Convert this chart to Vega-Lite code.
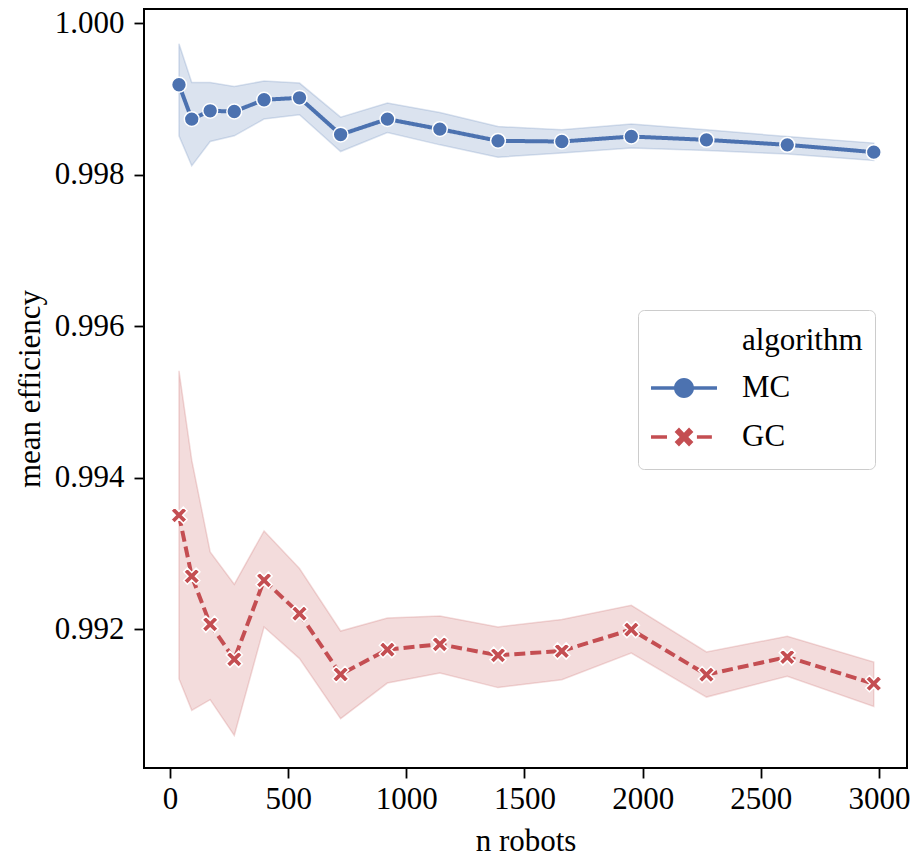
{
  "$schema": "https://vega.github.io/schema/vega-lite/v6.json",
  "width": 763,
  "height": 759,
  "autosize": "none",
  "padding": {"left": 144, "top": 9, "right": 5, "bottom": 89},
  "background": "white",
  "config": {
    "view": {"stroke": "black", "strokeWidth": 2},
    "font": "Liberation Serif",
    "axis": {
      "grid": false,
      "domain": false,
      "tickColor": "black",
      "tickSize": 10,
      "tickWidth": 1.8,
      "labelFont": "Liberation Serif",
      "labelFontSize": 31,
      "labelColor": "black",
      "labelFlush": false,
      "labelOverlap": false,
      "titleFont": "Liberation Serif",
      "titleFontSize": 31,
      "titleFontWeight": "normal",
      "titleColor": "black"
    }
  },
  "data": {
    "values": [
      {"algorithm": "MC", "n": 38, "mean": 0.999185, "lo": 0.998511, "hi": 0.999727},
      {"algorithm": "MC", "n": 92, "mean": 0.998732, "lo": 0.998115, "hi": 0.999215},
      {"algorithm": "MC", "n": 170, "mean": 0.998841, "lo": 0.998436, "hi": 0.999215},
      {"algorithm": "MC", "n": 272, "mean": 0.998832, "lo": 0.998511, "hi": 0.999163},
      {"algorithm": "MC", "n": 398, "mean": 0.998987, "lo": 0.998732, "hi": 0.999234},
      {"algorithm": "MC", "n": 548, "mean": 0.999013, "lo": 0.998789, "hi": 0.999207},
      {"algorithm": "MC", "n": 722, "mean": 0.998528, "lo": 0.998304, "hi": 0.998758},
      {"algorithm": "MC", "n": 920, "mean": 0.998732, "lo": 0.998555, "hi": 0.998943},
      {"algorithm": "MC", "n": 1142, "mean": 0.9986, "lo": 0.998392, "hi": 0.998819},
      {"algorithm": "MC", "n": 1388, "mean": 0.998445, "lo": 0.99823, "hi": 0.998634},
      {"algorithm": "MC", "n": 1658, "mean": 0.998436, "lo": 0.998283, "hi": 0.99859},
      {"algorithm": "MC", "n": 1952, "mean": 0.998502, "lo": 0.998349, "hi": 0.998666},
      {"algorithm": "MC", "n": 2270, "mean": 0.998458, "lo": 0.998317, "hi": 0.99859},
      {"algorithm": "MC", "n": 2612, "mean": 0.998392, "lo": 0.99827, "hi": 0.998502},
      {"algorithm": "MC", "n": 2978, "mean": 0.998296, "lo": 0.998185, "hi": 0.998415},
      {"algorithm": "GC", "n": 38, "mean": 0.993505, "lo": 0.991347, "hi": 0.995411},
      {"algorithm": "GC", "n": 92, "mean": 0.992699, "lo": 0.990929, "hi": 0.994231},
      {"algorithm": "GC", "n": 170, "mean": 0.992065, "lo": 0.99107, "hi": 0.99302},
      {"algorithm": "GC", "n": 272, "mean": 0.991603, "lo": 0.990598, "hi": 0.992593},
      {"algorithm": "GC", "n": 398, "mean": 0.992646, "lo": 0.992029, "hi": 0.993297},
      {"algorithm": "GC", "n": 548, "mean": 0.992206, "lo": 0.991612, "hi": 0.9928},
      {"algorithm": "GC", "n": 722, "mean": 0.991404, "lo": 0.990819, "hi": 0.991976},
      {"algorithm": "GC", "n": 920, "mean": 0.991731, "lo": 0.991289, "hi": 0.992148},
      {"algorithm": "GC", "n": 1142, "mean": 0.991801, "lo": 0.991421, "hi": 0.992174},
      {"algorithm": "GC", "n": 1388, "mean": 0.991656, "lo": 0.991229, "hi": 0.992029},
      {"algorithm": "GC", "n": 1658, "mean": 0.991712, "lo": 0.991334, "hi": 0.992127},
      {"algorithm": "GC", "n": 1952, "mean": 0.991995, "lo": 0.991686, "hi": 0.992316},
      {"algorithm": "GC", "n": 2270, "mean": 0.9914, "lo": 0.991104, "hi": 0.991699},
      {"algorithm": "GC", "n": 2612, "mean": 0.991633, "lo": 0.991378, "hi": 0.991906},
      {"algorithm": "GC", "n": 2978, "mean": 0.991281, "lo": 0.990981, "hi": 0.991567}
    ]
  },
  "encoding": {
    "x": {
      "field": "n",
      "type": "quantitative",
      "scale": {"domain": [-110, 3118.6], "nice": false, "zero": false},
      "axis": {
        "title": "n robots",
        "values": [0, 500, 1000, 1500, 2000, 2500, 3000],
        "format": "d",
        "labelPadding": 6,
        "titlePadding": 12
      }
    }
  },
  "layer": [
    {
      "mark": {"type": "area", "fillOpacity": 0.2, "strokeOpacity": 0.2, "strokeWidth": 1.5},
      "encoding": {
        "y": {
          "field": "lo",
          "type": "quantitative",
          "scale": {"domain": [0.990168, 1.000185], "nice": false, "zero": false},
          "axis": {
            "title": "mean efficiency",
            "values": [0.992, 0.994, 0.996, 0.998, 1.0],
            "format": ".3f",
            "labelPadding": 10,
            "titlePadding": 8
          }
        },
        "y2": {"field": "hi"},
        "color": {"field": "algorithm", "type": "nominal", "scale": {"domain": ["MC", "GC"], "range": ["#4C72B0", "#C44E52"]}, "legend": null},
        "stroke": {"field": "algorithm", "type": "nominal", "scale": {"domain": ["MC", "GC"], "range": ["#4C72B0", "#C44E52"]}, "legend": null}
      }
    },
    {
      "mark": {"type": "line", "strokeWidth": 4},
      "encoding": {
        "y": {"field": "mean", "type": "quantitative"},
        "color": {"field": "algorithm", "type": "nominal", "legend": null},
        "strokeDash": {"field": "algorithm", "type": "nominal", "scale": {"domain": ["MC", "GC"], "range": [[1, 0], [11, 5]]}, "legend": null}
      }
    },
    {
      "transform": [{"filter": "datum.algorithm === 'MC'"}],
      "mark": {"type": "point", "filled": true, "shape": "circle", "size": 220, "fill": "#4C72B0", "stroke": "white", "strokeWidth": 1.5, "opacity": 1},
      "encoding": {
        "y": {"field": "mean", "type": "quantitative"}
      }
    },
    {
      "transform": [{"filter": "datum.algorithm === 'GC'"}],
      "mark": {"type": "point", "filled": true, "shape": "M0.919,-0.495L0.424,0L0.919,0.495L0.495,0.919L0,0.424L-0.495,0.919L-0.919,0.495L-0.424,0L-0.919,-0.495L-0.495,-0.919L0,-0.424L0.495,-0.919Z", "size": 310, "fill": "#C44E52", "stroke": "white", "strokeWidth": 1.5, "opacity": 1},
      "encoding": {
        "y": {"field": "mean", "type": "quantitative"}
      }
    },
    {
      "transform": [{"filter": "datum.n < 0"}],
      "mark": {"type": "point", "filled": true},
      "encoding": {
        "y": {"field": "mean", "type": "quantitative"},
        "fill": {
          "field": "algorithm",
          "type": "nominal",
          "scale": {"domain": ["GC", "MC"], "range": ["#C44E52", "#4C72B0"]}
        },
        "shape": {
          "field": "algorithm",
          "type": "nominal",
          "scale": {
            "domain": ["GC", "MC"],
            "range": [
              "M-0.97,-0.05H-0.5V0.05H-0.97Z M0.38,-0.05H0.82V0.05H0.38Z M0.276,-0.148L0.127,0L0.276,0.148L0.148,0.276L0,0.127L-0.148,0.276L-0.276,0.148L-0.127,0L-0.276,-0.148L-0.148,-0.276L0,-0.127L0.148,-0.276Z",
              "M-0.97,-0.05H-0.28V0.05H-0.97Z M0.28,-0.05H0.97V0.05H0.28Z M0.294,0A0.294,0.294 0 1,1 -0.294,0A0.294,0.294 0 1,1 0.294,0Z"
            ]
          },
          "legend": {
            "title": "algorithm   ",
            "values": ["MC", "GC"],
            "orient": "none",
            "legendX": 494,
            "legendY": 301,
            "titleFont": "Liberation Serif",
            "titleFontSize": 31,
            "titleFontWeight": "normal",
            "titleColor": "black",
            "titlePadding": 15,
            "labelFont": "Liberation Serif",
            "labelFontSize": 31,
            "labelColor": "black",
            "labelOffset": 24,
            "symbolSize": 4624,
            "symbolOpacity": 1,
            "symbolStrokeWidth": 0,
            "clipHeight": 40,
            "rowPadding": 9,
            "padding": 12,
            "fillColor": "white",
            "strokeColor": "#cccccc",
            "cornerRadius": 6,
            "encoding": {
              "title": {"dx": {"value": 92}, "dy": {"value": 4}}
            }
          }
        }
      }
    }
  ]
}
